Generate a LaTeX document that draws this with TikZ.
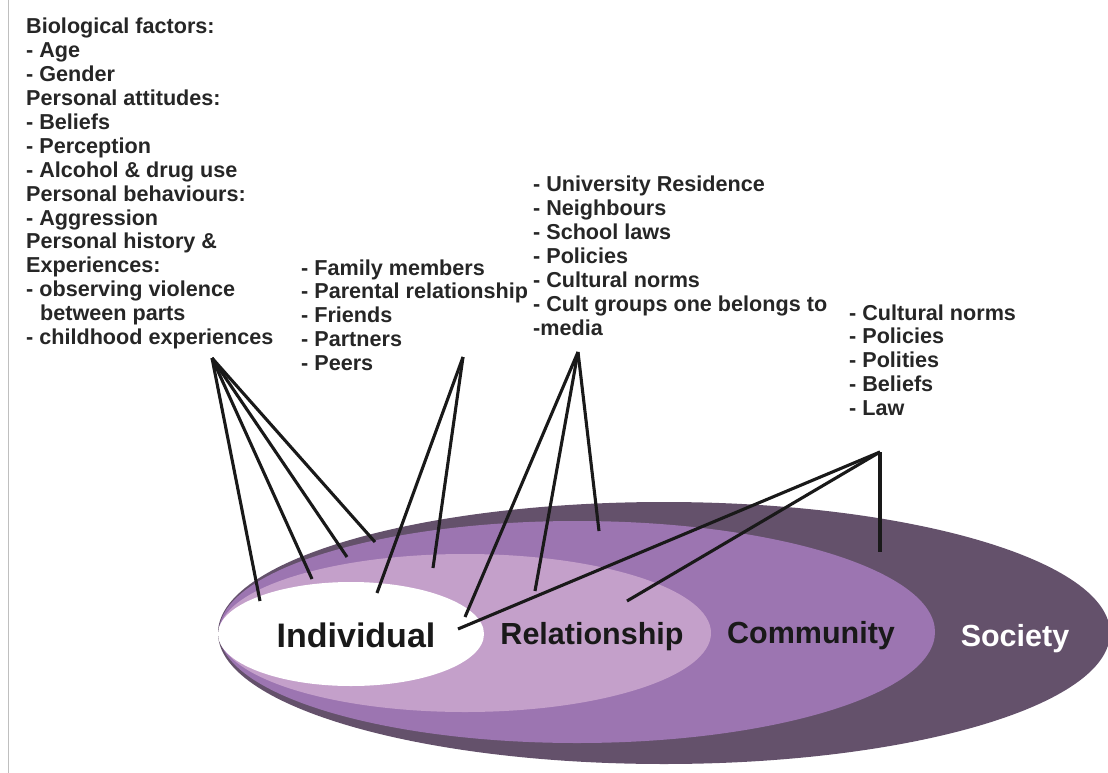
\documentclass[tikz,border=0pt]{standalone}
\usepackage{fontspec}
\setmainfont{Liberation Sans}
\definecolor{society}{HTML}{64516B}
\definecolor{community}{HTML}{9C75B1}
\definecolor{relation}{HTML}{C4A0CA}

\begin{document}
\begin{tikzpicture}[x=1pt,y=-1pt,
		lst/.style = {anchor=north west, inner sep=0pt, align=left, text=black!85,
			font=\bfseries\fontsize{21.6}{23.9}\selectfont},
		lvl/.style args = {#1/#2}{anchor=base, inner sep=0pt, text=#1,
			font=\bfseries\fontsize{#2}{#2}\selectfont},
		link/.style = {line width=3.1pt, draw=black!90}
		]
		\useasboundingbox (0,0) rectangle (1108,773);
		\draw[black!25, line width=1.5pt] (8.5,0) -- (8.5,773);
		% nested levels
		\fill[society]   (664,633) ellipse [x radius=446, y radius=131];
		\fill[community] (577,632) ellipse [x radius=358, y radius=111];
		\fill[relation]  (465,633) ellipse [x radius=246, y radius=79];
		\fill[white]     (351,634) ellipse [x radius=133, y radius=52];
		\node (n1) [lvl=black!90/34]   at (356,647) {Individual};
		\node (n2) [lvl=black!90/30.5] at (592,644) {Relationship};
		\node (n3) [lvl=black!90/30.5] at (811,643) {Community};
		\node (n4) [lvl=white/30.5]    at (1015,646) {Society};
		% factor lists
		\node (t1) [lst] at (26,18) {Biological factors:\\- Age\\- Gender\\
			Personal attitudes:\\- Beliefs\\- Perception\\- Alcohol \& drug use\\
			Personal behaviours:\\- Aggression\\Personal history \&\\Experiences:\\
			- observing violence\\\hspace*{14pt}between parts\\- childhood experiences};
		\node (t2) [lst] at (301,259.2) {- Family members\\- Parental relationship\\
			- Friends\\- Partners\\- Peers};
		\node (t3) [lst] at (533,175.9) {- University Residence\\- Neighbours\\
			- School laws\\- Policies\\- Cultural norms\\- Cult groups one belongs to\\-media};
		\node (t4) [lst] at (849,304.2) {- Cultural norms\\- Policies\\- Polities\\
			- Beliefs\\- Law};
		% hubs and line ends
		\coordinate (h1) at (212,358);
		\coordinate (h2) at (463,357);
		\coordinate (h3) at (578,352);
		\coordinate (h4) at (880,452);
		\coordinate (e1) at (260,601);
		\coordinate (e2) at (312,579);
		\coordinate (e3) at (347,557);
		\coordinate (e4) at (375,542);
		\coordinate (e5) at (377,593);
		\coordinate (e6) at (433,568);
		\coordinate (e7) at (465,617);
		\coordinate (e8) at (535,591);
		\coordinate (e9) at (599,531);
		\coordinate (e10) at (458,629);
		\coordinate (e11) at (627,601);
		\coordinate (e12) at (880,552);
		\foreach \from/\to in {h1/e1, h1/e2, h1/e3, h1/e4, h2/e5, h2/e6,
			h3/e7, h3/e8, h3/e9, h4/e10, h4/e11, h4/e12}
		\draw[link] (\from) -- (\to);
	\end{tikzpicture}
\end{document}
